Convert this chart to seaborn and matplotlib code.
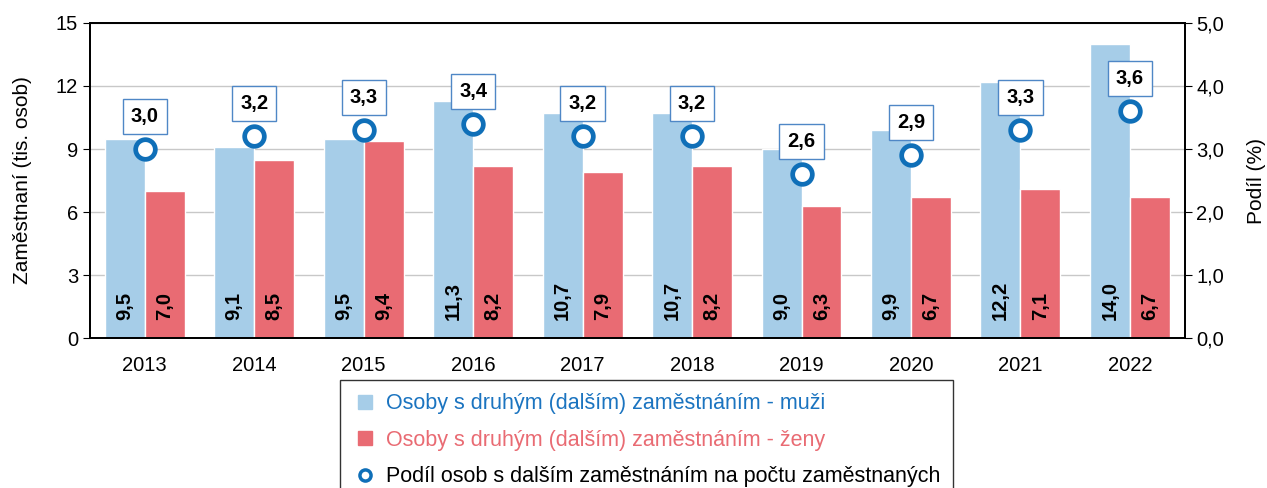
import pandas as pd
import matplotlib.pyplot as plt
import seaborn as sns
from matplotlib.lines import Line2D
from matplotlib.ticker import FixedLocator

# Data
years = ["2013", "2014", "2015", "2016", "2017", "2018", "2019", "2020", "2021", "2022"]
muzi = [9.5, 9.1, 9.5, 11.3, 10.7, 10.7, 9.0, 9.9, 12.2, 14.0]
zeny = [7.0, 8.5, 9.4, 8.2, 7.9, 8.2, 6.3, 6.7, 7.1, 6.7]
podil = [3.0, 3.2, 3.3, 3.4, 3.2, 3.2, 2.6, 2.9, 3.3, 3.6]

lab_m = "Osoby s druhým (dalším) zaměstnáním - muži"
lab_z = "Osoby s druhým (dalším) zaměstnáním - ženy"
lab_p = "Podíl osob s dalším zaměstnáním na počtu zaměstnaných"

c_m = "#A6CDE8"
c_z = "#E96B73"
c_p = "#0F6FB8"

df = pd.DataFrame({
    "rok": years * 2,
    "hodnota": muzi + zeny,
    "skupina": [lab_m] * len(years) + [lab_z] * len(years),
})

sns.set_style("white")
plt.rcParams["font.family"] = ["Liberation Sans", "DejaVu Sans"]
plt.rcParams["text.color"] = "black"
plt.rcParams["axes.labelcolor"] = "black"
plt.rcParams["xtick.color"] = "black"
plt.rcParams["ytick.color"] = "black"

fig = plt.figure(figsize=(12.67, 4.88), dpi=100)
ax = fig.add_axes([0.071, 0.307, 0.864, 0.646])

sns.barplot(data=df, x="rok", y="hodnota", hue="skupina", palette=[c_m, c_z],
            width=0.73, saturation=1, ax=ax, legend=False)

ax.set_ylim(0, 15)
ax.set_xlim(-0.5, len(years) - 0.5)
ax.set_yticks([0, 3, 6, 9, 12, 15])
ax.yaxis.grid(True, color="#C8C8C8", linewidth=1)
ax.set_axisbelow(True)
ax.set_xlabel("")
ax.set_ylabel("Zaměstnaní (tis. osob)", fontsize=15, labelpad=17)
ax.tick_params(axis="both", labelsize=14.5, length=5, direction="out", color="black")
ax.tick_params(axis="x", length=0, pad=13)
ax.xaxis.set_minor_locator(FixedLocator([i + 0.5 for i in range(-1, len(years))]))
ax.tick_params(axis="x", which="minor", length=6, color="black", direction="out")
ax.tick_params(left=True, which="major", axis="y")
for s in ax.spines.values():
    s.set_color("black")
    s.set_linewidth(1.3)

# value labels in bars
for cont in ax.containers:
    for bar in cont:
        h = bar.get_height()
        ax.text(bar.get_x() + bar.get_width() / 2, 0.85, f"{h:.1f}".replace(".", ","),
                rotation=90, ha="center", va="bottom", fontsize=14.5,
                fontweight="bold", color="black")

# share on secondary axis
ax2 = ax.twinx()
ax2.set_ylim(0, 5)
ax2.set_yticks([0, 1, 2, 3, 4, 5])
ax2.set_yticklabels([f"{v:.1f}".replace(".", ",") for v in range(6)])
ax2.set_ylabel("Podíl (%)", fontsize=15, labelpad=16)
ax2.tick_params(axis="y", labelsize=14.5, length=5, direction="out", color="black", right=True)
sns.scatterplot(x=list(range(len(years))), y=podil, ax=ax2, marker="o", s=200,
                facecolor="white", edgecolor=c_p, linewidth=3.4, zorder=5)
for i, v in enumerate(podil):
    ax2.annotate(f"{v:.1f}".replace(".", ","), (i, v), xytext=(0, 23.5),
                 textcoords="offset points", ha="center", va="center",
                 fontsize=14.5, fontweight="bold", color="black",
                 bbox=dict(boxstyle="square,pad=0.4", fc="white", ec="#4F87C6", lw=1))
for s in ax2.spines.values():
    s.set_color("black")
    s.set_linewidth(1.3)

# legend
handles = [
    Line2D([], [], marker="s", linestyle="", markersize=10, color=c_m),
    Line2D([], [], marker="s", linestyle="", markersize=10, color=c_z),
    Line2D([], [], marker="o", linestyle="", markersize=8, markerfacecolor="white",
           markeredgecolor=c_p, markeredgewidth=2.5),
]
leg = fig.legend(handles, [lab_m, lab_z, lab_p], loc="upper left",
                 bbox_to_anchor=(0.268, 0.221), fontsize=15.5, frameon=True,
                 fancybox=False, edgecolor="black", handletextpad=0.35,
                 labelspacing=0.72, borderpad=0.6, borderaxespad=0,
                 handlelength=1.2)
leg.get_frame().set_linewidth(1)
for txt, col in zip(leg.get_texts(), ["#1B74C0", c_z, "black"]):
    txt.set_color(col)

fig.savefig("out.png", dpi=100)
